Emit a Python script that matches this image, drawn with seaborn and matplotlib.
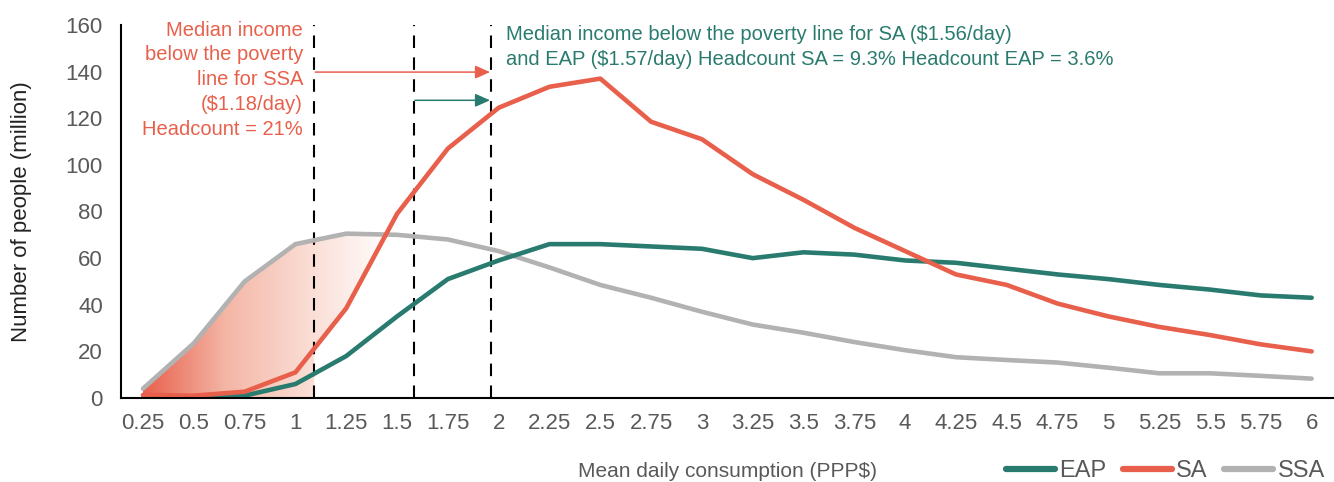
import numpy as np
import pandas as pd
import matplotlib
matplotlib.use("Agg")
import matplotlib.pyplot as plt
import seaborn as sns
from matplotlib.lines import Line2D
from matplotlib.colors import LinearSegmentedColormap

# ---- data ----
categories = ["0.25", "0.5", "0.75", "1", "1.25", "1.5", "1.75", "2", "2.25", "2.5",
              "2.75", "3", "3.25", "3.5", "3.75", "4", "4.25", "4.5", "4.75", "5",
              "5.25", "5.5", "5.75", "6"]
eap = [0, 0, 1, 6, 18, 35, 51, 59, 66, 66, 65, 64, 60, 62.5, 61.5, 59, 58, 55.5, 53, 51,
       48.5, 46.5, 44, 43]
sa = [1.3, 1, 2.7, 11, 38.5, 79, 107, 124.5, 133.5, 137, 118.5, 111, 96, 85, 73, 63, 53,
      48.5, 40.5, 35, 30.5, 27, 23, 20]
ssa = [4, 23.5, 50, 66, 70.5, 70, 68, 63, 56, 48.5, 43, 37, 31.5, 28, 24, 20.5, 17.5,
       16.3, 15.2, 13, 10.6, 10.6, 9.5, 8.3]
series_names = ["EAP", "SA", "SSA"]
# median poverty-line markers, in category-position units
median_lines = [3.37, 5.33, 6.85]

TEAL = "#2A7B6F"
RED = "#E8604C"
GRAY = "#B2B2B2"
TXT = "#595959"

sns.set_style("white")
plt.rcParams["font.family"] = ["Liberation Sans", "DejaVu Sans"]

idx = np.arange(len(categories))
df = pd.DataFrame({
    "pos": np.tile(idx, 3),
    "value": eap + sa + ssa,
    "region": np.repeat(series_names, len(categories)),
})

fig = plt.figure(figsize=(13.34, 4.82), dpi=100)
ax = fig.add_axes([121 / 1334, 1 - 398 / 482, 1 - 121 / 1334, (398 - 25) / 482])

palette = {"EAP": TEAL, "SA": RED, "SSA": GRAY}
sns.lineplot(data=df, x="pos", y="value", hue="region", hue_order=series_names,
             palette=palette, linewidth=3.3, errorbar=None, legend=False, ax=ax)
zorders = {0: 4, 1: 5, 2: 3}
for i, ln in enumerate(ax.lines[:3]):
    ln.set_zorder(zorders[i])
    ln.set_solid_capstyle("round")
    ln.set_solid_joinstyle("round")

# gradient fill under SSA
xs = np.linspace(0, 6, 2400)
top = np.interp(xs, idx, ssa)
bot = np.where(xs > median_lines[0], np.interp(xs, idx, sa), 0)
poly = ax.fill_between(xs, bot, top, where=top > bot, interpolate=True,
                       facecolor="none", edgecolor="none")
cmap = LinearSegmentedColormap.from_list("g", [RED, "#F4B6A6", "#FADDD4", "#FFFFFF"])
grad = np.linspace(0, 1, 256)[None, :]
im = ax.imshow(grad, cmap=cmap, extent=[0, 4.9, 0, 80], aspect="auto",
               origin="lower", zorder=1, interpolation="bilinear")
im.set_clip_path(poly.get_paths()[0], ax.transData)

# dashed lines
for xv in median_lines:
    ax.axvline(xv, color="black", lw=1.5, linestyle=(0, (6, 4.5)), zorder=2)

# arrows
ax.annotate("", xy=(median_lines[2] - 0.02, 139.8), xytext=(median_lines[0] + 0.02, 139.8),
            arrowprops=dict(arrowstyle="-|>,head_length=0.9,head_width=0.4",
                            color=RED, lw=1.1, shrinkA=0, shrinkB=0))
ax.annotate("", xy=(median_lines[2] - 0.02, 127.7), xytext=(median_lines[1] + 0.02, 127.7),
            arrowprops=dict(arrowstyle="-|>,head_length=0.9,head_width=0.4",
                            color=TEAL, lw=1.1, shrinkA=0, shrinkB=0))

# annotation texts
fig.text(303 / 1334, 1 - 20.5 / 482,
         "Median income\nbelow the poverty\nline for SSA\n($1.18/day)\nHeadcount = 21%",
         ha="right", va="top", color=RED, fontsize=14.5, linespacing=1.39)
fig.text(506 / 1334, 1 - 24.5 / 482,
         "Median income below the poverty line for SA ($1.56/day)\n"
         "and EAP ($1.57/day) Headcount SA = 9.3% Headcount EAP = 3.6%",
         ha="left", va="top", color=TEAL, fontsize=14.5, linespacing=1.42)

ax.set_xlim(-0.433, 23.44)
ax.set_ylim(0, 160)
ax.set_xticks(idx)
ax.set_xticklabels(categories)
ax.set_yticks(np.arange(0, 161, 20))
ax.tick_params(axis="both", length=0, labelsize=16, labelcolor=TXT)
ax.tick_params(axis="x", pad=11)
ax.tick_params(axis="y", pad=13)
for s in ["top", "right"]:
    ax.spines[s].set_visible(False)
for s in ["left", "bottom"]:
    ax.spines[s].set_color("black")
    ax.spines[s].set_linewidth(1.5)
    ax.spines[s].set_zorder(6)

ax.set_xlabel("Mean daily consumption (PPP$)", fontsize=15, color=TXT, labelpad=20)
ax.set_ylabel("Number of people (million)", fontsize=16, color="#222222", labelpad=24)

handles = [Line2D([0], [0], color=palette[n], lw=4.5, solid_capstyle="round")
           for n in series_names]
fig.legend(handles, series_names, loc="lower right", bbox_to_anchor=(1.009, -0.045),
           ncol=3, frameon=False, fontsize=17, labelcolor=TXT, handlelength=2.05,
           handletextpad=0.2, columnspacing=0.7)

fig.savefig("out.png", dpi=100)
